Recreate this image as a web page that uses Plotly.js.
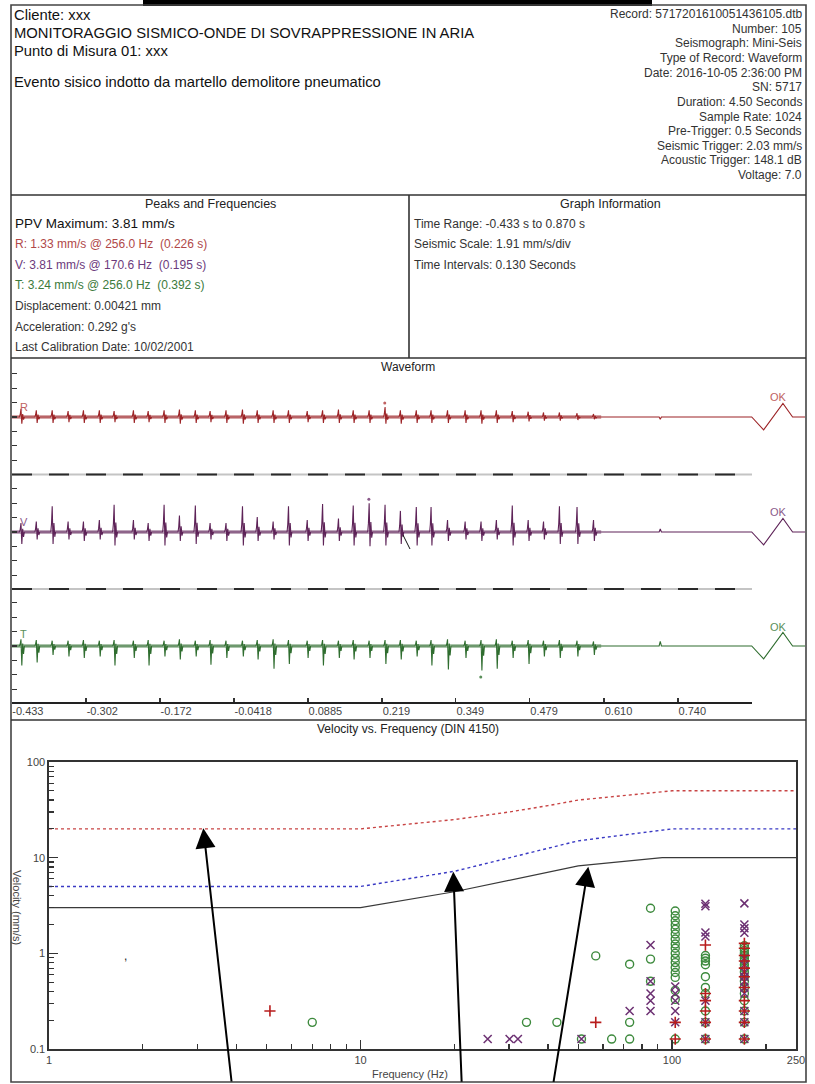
<!DOCTYPE html>
<html><head><meta charset="utf-8">
<script src="https://cdn.plot.ly/plotly-3.0.1.min.js"></script>
<style>html,body{margin:0;padding:0;background:#fff}#chart{width:815px;height:1084px}</style>
</head><body><div id="chart"></div>
<script>
// ---------------- Waveform data ----------------
const timeTickVals = [-0.433,-0.302,-0.172,-0.0418,0.0885,0.219,0.349,0.479,0.610,0.740];
const timeTickText = ["-0.433","-0.302","-0.172","-0.0418","0.0885","0.219","0.349","0.479","0.610","0.740"];
const timeRange = [-0.433, 0.870];
const activityEnd = 0.605;
const seismicScale = 1.91; // mm/s per division
const spikeT = [-0.417,-0.390,-0.362,-0.334,-0.307,-0.279,-0.253,-0.219,-0.193,-0.165,-0.138,-0.110,-0.084,-0.056,-0.027,-0.001,0.027,0.054,0.087,0.114,0.142,0.168,0.196,0.224,0.251,0.279,0.305,0.334,0.365,0.393,0.420,0.448,0.476,0.503,0.531,0.562,0.591];
const rUp   = [1.1,0.9,0.9,0.8,0.9,0.9,0.8,0.9,0.8,0.9,1.0,0.9,0.8,0.9,1.0,0.9,0.9,0.9,0.8,0.9,1.0,0.9,0.9,1.33,0.9,0.9,0.9,0.9,0.9,0.9,0.9,0.8,0.7,0.6,0.6,0.5,0.4];
const rDown = [-0.9,-0.8,-0.8,-0.7,-0.8,-0.8,-0.7,-0.8,-0.7,-0.8,-0.9,-0.8,-0.7,-0.8,-0.9,-0.8,-0.8,-0.8,-0.7,-0.8,-0.8,-0.8,-0.8,-0.9,-0.9,-0.8,-0.8,-0.8,-0.8,-0.9,-0.8,-0.7,-0.6,-0.5,-0.5,-0.4,-0.3];
const vUp   = [1.2,1.4,3.4,1.4,1.4,1.6,3.6,1.6,1.2,3.6,2.2,3.5,1.2,1.2,3.4,2.0,1.4,3.4,1.6,3.7,1.8,3.5,3.81,3.6,2.8,3.3,3.3,1.6,1.4,1.4,1.6,3.5,1.6,1.4,3.4,3.3,1.6];
const vDown = [-1.6,-1.0,-1.6,-1.0,-1.2,-1.0,-1.8,-1.0,-1.2,-1.8,-1.2,-1.6,-1.0,-1.2,-1.8,-1.2,-1.0,-1.8,-1.2,-1.8,-1.2,-1.8,-1.9,-1.8,-1.6,-1.8,-1.8,-1.2,-1.0,-1.2,-1.0,-1.8,-1.2,-1.0,-1.6,-1.6,-1.2];
const tUp   = [0.9,0.8,0.7,0.7,0.8,0.7,0.8,0.7,0.8,0.7,0.9,0.7,0.8,0.7,0.7,0.8,0.9,0.8,0.7,0.8,0.7,0.8,0.7,0.8,0.8,0.7,0.8,0.9,0.7,0.8,0.9,0.7,0.8,0.7,0.8,0.7,0.6];
const tDown = [-2.6,-2.2,-1.2,-1.4,-1.6,-1.4,-2.6,-1.6,-2.6,-1.4,-1.8,-1.4,-2.5,-1.6,-1.4,-1.8,-3.0,-2.4,-1.6,-2.6,-1.6,-1.8,-1.6,-2.4,-1.8,-1.4,-2.6,-3.1,-1.6,-3.24,-3.0,-1.6,-2.4,-1.4,-1.6,-1.4,-1.2];
const tailTime = 0.709;
const tailAmp = {R:-0.3, V:0.4, T:0.6};
const calT   = [0.870, 0.891, 0.925, 0.942, 0.964];
const calAmp = [0, -1.7, 1.8, 0, 0];
const peakMark = {R:[0.224,1.85], V:[0.196,4.35], T:[0.393,-4.1]};

// ---------------- Velocity vs Frequency data ----------------
const dinFreq1 = [1,10,20,30,40,50,100,250];
const dinLine1 = [20,20,25,30,35,40,50,50];
const dinFreq2 = [1,10,20,30,40,50,100,250];
const dinLine2 = [5,5,7.2,10,12.5,15,20,20];
const dinFreq3 = [1,10,20,30,40,50,93,250];
const dinLine3 = [3,3,4.4,5.8,7.1,8.2,10,10];

const rFreq = [5.12,56.9,102.4,102.4,128,128,128,128,128,128,170.7,170.7,170.7,170.7,170.7,170.7,170.7,170.7,170.7,170.7,170.7];
const rVel  = [0.25,0.19,0.19,0.127,1.22,0.38,0.32,0.25,0.19,0.127,1.27,1.13,0.95,0.83,0.70,0.57,0.44,0.32,0.25,0.19,0.127];
const vFreq = [25.6,30.1,32.0,51.2,73.1,85.3,85.3,85.3,85.3,85.3,102.4,102.4,102.4,102.4,102.4,128,128,128,128,128,128,128,170.7,170.7,170.7,170.7,170.7,170.7,170.7,170.7,170.7,170.7,170.7,170.7,170.7,170.7];
const vVel  = [0.127,0.127,0.127,0.127,0.25,1.22,0.51,0.38,0.32,0.25,0.45,0.38,0.32,0.25,0.19,3.3,3.1,1.65,1.5,0.32,0.19,0.127,3.33,2.0,1.83,1.64,0.89,0.76,0.64,0.57,0.51,0.44,0.38,0.25,0.19,0.127];
const tFreq = [7.0,34.1,42.7,51.2,56.9,64,73.1,73.1,73.1,85.3,85.3,85.3,
  102.4,102.4,102.4,102.4,102.4,102.4,102.4,102.4,102.4,102.4,102.4,102.4,102.4,102.4,102.4,102.4,102.4,102.4,
  128,128,128,128,128,128,128,128,128,128,
  170.7,170.7,170.7,170.7,170.7,170.7,170.7,170.7,170.7,170.7,170.7,170.7,170.7,170.7,170.7,170.7,170.7,170.7];
const tVel  = [0.19,0.19,0.19,0.127,0.94,0.127,0.77,0.19,0.127,2.96,0.87,0.51,
  2.77,2.47,2.19,1.98,1.78,1.59,1.41,1.25,1.13,1.0,0.89,0.80,0.71,0.63,0.56,0.41,0.33,0.127,
  0.95,0.89,0.83,0.76,0.57,0.44,0.38,0.25,0.19,0.127,
  1.2,1.13,1.07,1.0,0.95,0.89,0.83,0.76,0.70,0.64,0.57,0.51,0.44,0.38,0.32,0.25,0.19,0.127];
const freqTickVals = [1,10,100,250];
const freqTickText = ["1","10","100","250"];
const velTickVals = [0.1,1,10,100];
const velTickText = ["0.1","1","10","100"];

// ---------------- helpers ----------------
const W = 815, H = 1084;
const PX = x => x / W, PY = y => 1 - y / H;
const FONT = "Liberation Sans, Arial, Helvetica, sans-serif";
const COL = {R:"#9c2326", V:"#5e2358", T:"#2f6d2f"};
const COLL = {R:"#c06262", V:"#8a5a8a", T:"#5a8f5a"};

function buildWave(up, down, tail){
  const xs = [timeRange[0]], ys = [0];
  const tpl = [[-0.002,0,0],[-0.0008,0.3,0],[0.0005,1,0],[0.002,0,1],[0.0035,0.35,0],[0.005,0,0.4],[0.0065,0,0]];
  spikeT.forEach((t,i) => {
    tpl.forEach(p => { xs.push(t + p[0]); ys.push(p[1]*up[i] + p[2]*down[i]); });
  });
  xs.push(tailTime-0.002, tailTime, tailTime+0.002); ys.push(0, tail, 0);
  calT.forEach((t,i) => { xs.push(t); ys.push(calAmp[i]); });
  return {x: xs, y: ys};
}

const traces = [];
const chans = [["R","y",rUp,rDown],["V","y2",vUp,vDown],["T","y3",tUp,tDown]];
chans.forEach(([c, ya, up, dn]) => {
  traces.push({type:"scatter", mode:"lines", x:[timeRange[0], activityEnd], y:[0,0], xaxis:"x", yaxis:ya,
    line:{color:COL[c], width:4}, opacity:0.4, hoverinfo:"skip"});
  const w = buildWave(up, dn, tailAmp[c]);
  traces.push({type:"scatter", mode:"lines", x:w.x, y:w.y, xaxis:"x", yaxis:ya,
    line:{color:COL[c], width:1.1}, hoverinfo:"skip"});
  traces.push({type:"scatter", mode:"markers", x:[peakMark[c][0]], y:[peakMark[c][1]], xaxis:"x", yaxis:ya,
    marker:{color:COLL[c], size:3}, hoverinfo:"skip"});
});

traces.push({type:"scatter", mode:"lines", x:dinFreq1, y:dinLine1, xaxis:"x2", yaxis:"y4", line:{color:"#c84444", width:1.4, dash:"dot"}});
traces.push({type:"scatter", mode:"lines", x:dinFreq2, y:dinLine2, xaxis:"x2", yaxis:"y4", line:{color:"#3a3ac4", width:1.4, dash:"dot"}});
traces.push({type:"scatter", mode:"lines", x:dinFreq3, y:dinLine3, xaxis:"x2", yaxis:"y4", line:{color:"#3a3a3a", width:1.2}});
traces.push({type:"scatter", mode:"markers", x:tFreq, y:tVel, xaxis:"x2", yaxis:"y4",
  marker:{symbol:"circle-open", size:8, color:"#3d8a3d", line:{width:1.4, color:"#3d8a3d"}}});
traces.push({type:"scatter", mode:"markers", x:vFreq, y:vVel, xaxis:"x2", yaxis:"y4",
  marker:{symbol:"x-thin", size:8, color:"#6c3072", line:{width:1.5, color:"#6c3072"}}});
traces.push({type:"scatter", mode:"markers", x:rFreq, y:rVel, xaxis:"x2", yaxis:"y4",
  marker:{symbol:"cross-thin", size:8, color:"#b81c1c", line:{width:1.6, color:"#b81c1c"}}});

// ---------------- axes ----------------
const halfRange = 57/14.4*seismicScale;
const chTicks = [-3,-2,-1,0,1,2,3].map(k => k*seismicScale);
function chAxis(top, bot){
  return {domain:[PY(bot), PY(top)], range:[-halfRange, halfRange], anchor:"x",
    showgrid:false, zeroline:false, showline:false, showticklabels:false,
    tickmode:"array", tickvals:chTicks, ticks:"inside", ticklen:5, tickwidth:1.4, tickcolor:"#333", fixedrange:true};
}

const pxPerSec = 568;
const layout = {
  width:W, height:H, margin:{l:0,r:0,t:0,b:0}, showlegend:false,
  paper_bgcolor:"#fff", plot_bgcolor:"rgba(0,0,0,0)",
  font:{family:FONT, color:"#333", size:12},
  xaxis:{domain:[PX(11.6), PX(805)], range:[timeRange[0], timeRange[0] + (805-11.6)/pxPerSec], anchor:"y3",
    showgrid:false, zeroline:false, showline:false, tickmode:"array", tickvals:timeTickVals, ticktext:timeTickText,
    ticks:"inside", ticklen:5, tickwidth:1.4, tickcolor:"#333", ticklabelposition:"outside right",
    tickfont:{size:11, color:"#444", family:FONT}},
  yaxis:chAxis(360,474),
  yaxis2:chAxis(475,589),
  yaxis3:chAxis(589,703),
  xaxis2:{type:"log", domain:[PX(49), PX(796)], range:[0, Math.log10(250)], anchor:"y4",
    showgrid:false, zeroline:false, showline:true, mirror:true, linecolor:"#333", linewidth:1.6,
    tickmode:"array", tickvals:freqTickVals, ticktext:freqTickText, ticks:"inside", ticklen:9, tickwidth:1.4, tickcolor:"#333",
    minor:{tickmode:"array", tickvals:[2,3,4,5,6,7,8,9,20,30,40,50,60,70,80,90,200], ticks:"inside", ticklen:5, tickwidth:1.4, tickcolor:"#333"},
    tickfont:{size:11, color:"#444", family:FONT}},
  yaxis4:{type:"log", domain:[PY(1049), PY(762)], range:[-1, 2], anchor:"x2",
    showgrid:false, zeroline:false, showline:true, mirror:true, linecolor:"#333", linewidth:1.6,
    tickmode:"array", tickvals:velTickVals, ticktext:velTickText, ticks:"inside", ticklen:9, tickwidth:1.6, tickcolor:"#333",
    minor:{tickmode:"array", tickvals:[0.2,0.3,0.4,0.5,0.6,0.7,0.8,0.9,2,3,4,5,6,7,8,9,20,30,40,50,60,70,80,90], ticks:"inside", ticklen:5, tickwidth:1.2, tickcolor:"#333"},
    tickfont:{size:11, color:"#444", family:FONT}},
  shapes:[], annotations:[]
};

// ---------------- frame shapes ----------------
const S = layout.shapes;
const line = (x0,y0,x1,y1,color,width,dash) => S.push({type:"line", xref:"paper", yref:"paper",
  x0:PX(x0), y0:PY(y0), x1:PX(x1), y1:PY(y1), line:{color:color, width:width, dash:dash||"solid"}});
S.push({type:"rect", xref:"paper", yref:"paper", x0:PX(143), x1:PX(652), y0:PY(6), y1:PY(0), fillcolor:"#000", line:{width:0}});
S.push({type:"rect", xref:"paper", yref:"paper", x0:PX(11), x1:PX(806), y0:PY(1082), y1:PY(5), line:{color:"#444", width:1.6}});
line(11,195,806,195,"#333",1.6);
line(11,358,806,358,"#333",1.6);
line(11,720,806,720,"#333",1.6);
line(409,195,409,358,"#333",1.6);
[474.5,589].forEach(y => { line(12,y,752,y,"#c4c4c4",2); line(12,y,752,y,"#2a2a2a",2,"20px,17px"); });
line(12,703,752,703,"#222",2.2);
line(403,535,410,549,"#111",1);

// ---------------- texts ----------------
const A = layout.annotations;
const txt = (x,y,t,opt) => A.push(Object.assign({xref:"paper", yref:"paper", x:PX(x), y:PY(y), text:t, showarrow:false,
  xanchor:"left", yanchor:"middle", font:{family:FONT, size:12, color:"#333"}}, opt||{}));

const HF = {family:FONT,size:14.8,color:"#111"};
txt(12,15,"Cliente: xxx",{font:HF});
txt(12,33,"MONITORAGGIO SISMICO-ONDE DI SOVRAPPRESSIONE IN ARIA",{font:HF});
txt(12,51,"Punto di Misura 01: xxx",{font:HF});
txt(12,82,"Evento sisico indotto da martello demolitore pneumatico",{font:HF});

const headerRight = ["Record: 5717201610051436105.dtb","Number: 105","Seismograph: Mini-Seis","Type of Record: Waveform",
  "Date: 2016-10-05 2:36:00 PM","SN: 5717","Duration: 4.50 Seconds","Sample Rate: 1024","Pre-Trigger: 0.5 Seconds",
  "Seismic Trigger: 2.03 mm/s","Acoustic Trigger: 148.1 dB","Voltage: 7.0"];
headerRight.forEach((t,i) => txt(804, 14 + 14.65*i, t, {xanchor:"right", font:{family:FONT,size:12,color:"#333"}}));

txt(210,204,"Peaks and Frequencies",{xanchor:"center", font:{family:FONT,size:12.5,color:"#222"}});
txt(13,224,"PPV Maximum: 3.81 mm/s",{font:{family:FONT,size:13.5,color:"#111"}});
txt(13,244,"R: 1.33 mm/s @ 256.0 Hz&nbsp; (0.226 s)",{font:{family:FONT,size:12,color:"#b04848"}});
txt(13,265,"V: 3.81 mm/s @ 170.6 Hz&nbsp; (0.195 s)",{font:{family:FONT,size:12,color:"#6c3a7c"}});
txt(13,285,"T: 3.24 mm/s @ 256.0 Hz&nbsp; (0.392 s)",{font:{family:FONT,size:12,color:"#3b7a3b"}});
txt(13,306,"Displacement: 0.00421 mm");
txt(13,327,"Acceleration: 0.292 g's");
txt(13,347,"Last Calibration Date: 10/02/2001");

txt(610,204,"Graph Information",{xanchor:"center", font:{family:FONT,size:12.5,color:"#222"}});
txt(412,224,"Time Range: -0.433 s to 0.870 s");
txt(412,244,"Seismic Scale: 1.91 mm/s/div");
txt(412,265,"Time Intervals: 0.130 Seconds");

txt(408,367,"Waveform",{xanchor:"center", font:{family:FONT,size:12,color:"#222"}});
txt(18,407,"R",{font:{family:FONT,size:11,color:COLL.R}});
txt(18,522,"V",{font:{family:FONT,size:11,color:COLL.V}});
txt(18,634,"T",{font:{family:FONT,size:11,color:COLL.T}});
txt(778,397,"OK",{xanchor:"center", font:{family:FONT,size:11,color:COLL.R}});
txt(778,512,"OK",{xanchor:"center", font:{family:FONT,size:11,color:COLL.V}});
txt(778,627,"OK",{xanchor:"center", font:{family:FONT,size:11,color:COLL.T}});

txt(408,729,"Velocity vs. Frequency (DIN 4150)",{xanchor:"center", font:{family:FONT,size:12,color:"#222"}});
txt(410,1074,"Frequency (Hz)",{xanchor:"center", font:{family:FONT,size:11,color:"#444"}});
txt(17,907,"Velocity (mm/s)",{xanchor:"center", textangle:90, font:{family:FONT,size:11,color:"#444"}});
txt(122,956,",",{font:{family:FONT,size:12,color:"#222"}});

// arrows
[[203.3,828.3,28.4,254.7],[453.3,871.7,8.4,211.6],[588.3,866.7,-35,216.6]].forEach(a => A.push({
  xref:"paper", yref:"paper", x:PX(a[0]), y:PY(a[1]), ax:a[2], ay:a[3], text:"", showarrow:true,
  arrowhead:2, arrowsize:2, arrowwidth:2, arrowcolor:"#000", standoff:0, startstandoff:0}));

Plotly.newPlot("chart", traces, layout, {staticPlot:true, displayModeBar:false});
</script></body></html>
